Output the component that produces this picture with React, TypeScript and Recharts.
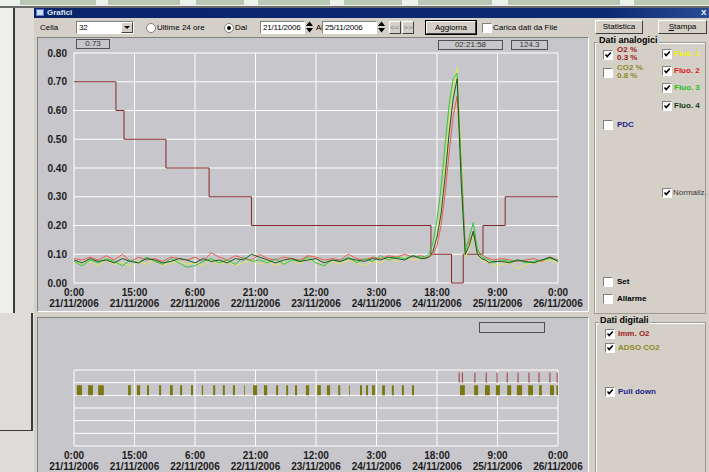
import React from "react"
import {
  LineChart,
  Line,
  ComposedChart,
  Area,
  XAxis,
  YAxis,
  CartesianGrid,
  ReferenceLine,
} from "recharts"

// ---- data (hours from 21/11/2006 0:00) ----
const HOURS = [
  0, 2, 4, 6, 8, 10, 12, 14, 16, 18, 20, 22, 24, 26, 28, 30, 32, 34, 36, 38, 40, 42,
  44, 46, 48, 50, 52, 54, 56, 58, 60, 62, 64, 66, 68, 70, 72, 74, 76, 78, 80, 82, 84, 86,
  87, 88, 89, 90, 91, 92, 93, 94, 95, 96, 97, 98, 99, 100, 101, 102, 103, 104,
  106, 108, 110, 112, 114, 116, 118, 120,
]

// Fluo. 1 (yellow)
const FLUO1 = [
  0.07, 0.065, 0.075, 0.06, 0.08, 0.065, 0.07, 0.06, 0.075, 0.065,
  0.08, 0.06, 0.07, 0.075, 0.065, 0.07, 0.06, 0.08, 0.065, 0.075,
  0.06, 0.07, 0.08, 0.065, 0.075, 0.06, 0.07, 0.08, 0.065, 0.085,
  0.07, 0.06, 0.075, 0.065, 0.08, 0.07, 0.06, 0.075, 0.07, 0.085,
  0.075, 0.09, 0.08, 0.085,
  0.085, 0.09, 0.11, 0.17, 0.26, 0.4, 0.56, 0.68, 0.75, 0.45, 0.09, 0.12, 0.17, 0.1, 0.08, 0.07, 0.075, 0.06,
  0.065, 0.07, 0.05, 0.065, 0.07, 0.075, 0.08, 0.07,
]

// Fluo. 2 (red)
const FLUO2 = [
  0.085, 0.08, 0.09, 0.08, 0.095, 0.08, 0.1, 0.075, 0.09, 0.08,
  0.085, 0.075, 0.09, 0.085, 0.08, 0.09, 0.075, 0.105, 0.09, 0.08,
  0.095, 0.085, 0.08, 0.1, 0.085, 0.08, 0.09, 0.085, 0.08, 0.095,
  0.09, 0.08, 0.085, 0.08, 0.1, 0.085, 0.08, 0.09, 0.085, 0.095,
  0.09, 0.1, 0.09, 0.095,
  0.09, 0.09, 0.1, 0.13, 0.2, 0.31, 0.45, 0.58, 0.65, 0.42, 0.13, 0.14, 0.18, 0.11, 0.1, 0.09, 0.085, 0.08,
  0.085, 0.08, 0.075, 0.08, 0.085, 0.075, 0.09, 0.08,
]

// Fluo. 3 (light green)
const FLUO3 = [
  0.075, 0.06, 0.08, 0.07, 0.085, 0.075, 0.06, 0.08, 0.07, 0.09,
  0.075, 0.065, 0.085, 0.07, 0.055, 0.06, 0.075, 0.085, 0.07, 0.08,
  0.065, 0.09, 0.075, 0.08, 0.07, 0.085, 0.065, 0.08, 0.075, 0.09,
  0.07, 0.06, 0.08, 0.075, 0.09, 0.07, 0.085, 0.075, 0.095, 0.08,
  0.09, 0.085, 0.095, 0.09,
  0.09, 0.1, 0.14, 0.22, 0.33, 0.48, 0.62, 0.71, 0.73, 0.4, 0.11, 0.16, 0.21, 0.12, 0.09, 0.085, 0.08, 0.07,
  0.08, 0.075, 0.08, 0.07, 0.075, 0.08, 0.085, 0.08,
]

// Fluo. 4 (dark green)
const FLUO4 = [
  0.08, 0.07, 0.085, 0.075, 0.08, 0.07, 0.085, 0.075, 0.07, 0.085,
  0.08, 0.07, 0.075, 0.085, 0.08, 0.07, 0.085, 0.075, 0.08, 0.07,
  0.085, 0.08, 0.1, 0.09, 0.08, 0.07, 0.08, 0.085, 0.075, 0.08,
  0.085, 0.07, 0.08, 0.075, 0.085, 0.08, 0.075, 0.085, 0.08, 0.09,
  0.085, 0.08, 0.095, 0.085,
  0.085, 0.09, 0.11, 0.16, 0.24, 0.37, 0.52, 0.64, 0.71, 0.35, 0.1, 0.13, 0.18, 0.1, 0.085, 0.08, 0.07, 0.075,
  0.075, 0.07, 0.08, 0.075, 0.07, 0.08, 0.09, 0.075,
]

// O2 % (step line)
const O2_HOURS = [0, 10.4, 12.4, 22.8, 33.5, 44, 88.5, 93.6, 96.5, 101.4, 106.9, 120]
const O2_VALUES = [0.7, 0.6, 0.5, 0.4, 0.3, 0.2, 0.1, 0, 0.1, 0.2, 0.3, 0.3]

// digital channels
const ADSO_ON = [
  0.7, 3.5, 6.0, 13.4, 15.6, 18.1, 21.1, 23.8, 26.3, 29.0, 31.7, 34.5, 36.9, 39.4, 42.2,
  44.4, 47.1, 50.1, 52.6, 54.8, 57.5, 60.3, 62.7, 65.5, 68.2, 70.9, 72.4, 73.9, 76.4,
  78.8, 81.3, 83.8, 95.7, 99.2, 101.9, 104.6, 107.4, 109.8, 112.6, 115.3, 118.0, 119.6,
]
const ADSO_OFF = [
  2.0, 4.7, 7.4, 14.1, 16.4, 18.6, 21.6, 24.5, 26.8, 29.5, 32.0, 35.0, 37.4, 39.9, 42.4,
  45.4, 47.9, 50.6, 53.1, 55.3, 58.3, 61.2, 63.5, 66.0, 68.4, 71.4, 72.9, 74.6, 77.1,
  79.3, 81.8, 84.3, 96.9, 100.2, 103.1, 105.6, 108.4, 111.1, 113.8, 116.0, 119.0, 120,
]
const IMM_O2 = [95.5, 96.3, 99.4, 102.2, 104.9, 107.4, 110.1, 112.8, 115.3, 118.0, 119.8]

const TICK_HOURS = [0, 15, 30, 45, 60, 75, 90, 105, 120]
const TICK_TIMES = ["0:00", "15:00", "6:00", "21:00", "12:00", "3:00", "18:00", "9:00", "0:00"]
const TICK_DATES = [
  "21/11/2006", "21/11/2006", "22/11/2006", "22/11/2006", "23/11/2006",
  "24/11/2006", "24/11/2006", "25/11/2006", "26/11/2006",
]
const LEFT_TICKS = [0, 0.1, 0.2, 0.3, 0.4, 0.5, 0.6, 0.7, 0.8]
const RIGHT_TICKS = [95, 99, 103, 107, 111, 115, 119, 123, 127]
const DIGITAL_ROWS = [1, 2, 3, 4, 5]

const WIN = "#d4d0c8"
const PLOT = "#c7c6cb"
const UI_FONT = '"Liberation Sans", Arial, sans-serif'
const AXIS_FONT = { fontFamily: UI_FONT, fontSize: 10, fontWeight: "bold", fill: "#1c1c1c" } as const

function DateTick({ x, y, payload }: any) {
  const i = TICK_HOURS.indexOf(payload.value)
  return (
    <text x={x} y={y} textAnchor="middle" {...AXIS_FONT}>
      <tspan x={x} dy={13}>{TICK_TIMES[i]}</tspan>
      <tspan x={x} dy={11}>{TICK_DATES[i]}</tspan>
    </text>
  )
}

function NoTick() {
  return <g />
}

function T({ x, y, color = "#000", bold = false, size = 9, children }: any) {
  return (
    <div
      style={{
        position: "absolute", left: x, top: y, color, fontWeight: bold ? "bold" : "normal",
        fontSize: size, lineHeight: 1, whiteSpace: "nowrap",
      }}
    >
      {children}
    </div>
  )
}

function Check({ x, y, on }: { x: number; y: number; on?: boolean }) {
  return (
    <div
      style={{
        position: "absolute", left: x, top: y, width: 8, height: 8, background: "#fff",
        borderTop: "1px solid #808080", borderLeft: "1px solid #808080",
        borderRight: "1px solid #fff", borderBottom: "1px solid #fff",
      }}
    >
      {on && (
        <svg width={8} height={8} style={{ display: "block" }}>
          <path d="M1.5 3.5 L3.2 5.5 L6.8 1.5" stroke="#000" strokeWidth={1.6} fill="none" />
        </svg>
      )}
    </div>
  )
}

function Radio({ x, y, on }: { x: number; y: number; on?: boolean }) {
  return (
    <div
      style={{
        position: "absolute", left: x, top: y, width: 8, height: 8, borderRadius: 5,
        background: "#fff", border: "1px solid #808080",
      }}
    >
      {on && (
        <div style={{ position: "absolute", left: 2, top: 2, width: 4, height: 4, borderRadius: 2, background: "#000" }} />
      )}
    </div>
  )
}

function Field({ x, y, w, h, children }: any) {
  return (
    <div
      style={{
        position: "absolute", left: x, top: y, width: w, height: h, background: "#fff",
        borderTop: "1px solid #808080", borderLeft: "1px solid #808080",
        borderRight: "1px solid #fff", borderBottom: "1px solid #fff",
        fontSize: 8, lineHeight: `${h - 2}px`, paddingLeft: 2, boxSizing: "border-box",
        whiteSpace: "nowrap", overflow: "hidden", letterSpacing: -0.2,
      }}
    >
      {children}
    </div>
  )
}

function Button({ x, y, w, h, children, focus }: any) {
  return (
    <div
      style={{
        position: "absolute", left: x, top: y, width: w, height: h, background: WIN,
        borderTop: "1px solid #fff", borderLeft: "1px solid #fff",
        borderRight: "1px solid #404040", borderBottom: "1px solid #404040",
        outline: focus ? "1px solid #000" : "none",
        boxSizing: "border-box", fontSize: 8, textAlign: "center", lineHeight: `${h - 2}px`,
      }}
    >
      {children}
    </div>
  )
}

function Spinner({ x, y }: { x: number; y: number }) {
  return (
    <svg width={7} height={12} style={{ position: "absolute", left: x, top: y }}>
      <path d="M0 5 L3.5 0.5 L7 5 Z M0 7 L3.5 11.5 L7 7 Z" fill="#000" />
    </svg>
  )
}

export default function App() {
  const fluoRows = HOURS.map((h, i) => ({ h, f1: FLUO1[i], f2: FLUO2[i], f3: FLUO3[i], f4: FLUO4[i] }))
  const o2Rows = O2_HOURS.map((h, i) => ({ h, o2: O2_VALUES[i] }))
  const adsoRows: { h: number; v: number }[] = [{ h: 0, v: 4 }]
  ADSO_ON.forEach((a, i) => {
    adsoRows.push({ h: a, v: 4.8 })
    adsoRows.push({ h: ADSO_OFF[i], v: 4 })
  })

  return (
    <div
      style={{
        position: "absolute", left: 0, top: 0, width: 709, height: 472, overflow: "hidden",
        background: WIN, fontFamily: UI_FONT, fontSize: 9, color: "#000",
      }}
    >
      {/* desktop behind the window */}
      <div style={{ position: "absolute", left: 0, top: 0, width: 709, height: 7, background: "#edf1ec" }} />
      {[[20, 96], [108, 180], [196, 244], [258, 330], [344, 402], [418, 492], [508, 620], [634, 709]].map(([a, b]) => (
        <div key={a} style={{ position: "absolute", left: a, top: 0, width: b - a, height: 5, background: "#b9c9b6" }} />
      ))}
      <div style={{ position: "absolute", left: 0, top: 6, width: 709, height: 2, background: "#6b6b6b" }} />
      <div style={{ position: "absolute", left: 0, top: 8, width: 34, height: 464, background: "#dedcd8" }} />
      <div style={{ position: "absolute", left: 0, top: 8, width: 13, height: 305, background: "#efefed" }} />
      <div style={{ position: "absolute", left: 13, top: 8, width: 2, height: 305, background: "#3a3a3a" }} />
      <div style={{ position: "absolute", left: 31, top: 313, width: 2, height: 118, background: "#3a3a3a" }} />
      <div style={{ position: "absolute", left: 0, top: 430, width: 33, height: 1, background: "#3a3a3a" }} />

      {/* title bar */}
      <div
        style={{
          position: "absolute", left: 34, top: 8, width: 675, height: 10,
          background: "linear-gradient(90deg, #0a246a 0%, #0c2a74 85%, #2a4c94 100%)",
        }}
      />
      <div style={{ position: "absolute", left: 36, top: 9, width: 8, height: 7, background: "#c8d8f8", border: "1px solid #6080c0", boxSizing: "border-box" }} />
      <T x={47} y={9} color="#dfe6f5" bold size={8}>Grafici</T>
      <T x={701} y={9} color="#fff" bold size={8}>X</T>

      {/* toolbar */}
      <T x={40} y={24} size={8}>Cella</T>
      <Field x={76} y={21} w={58} h={13}>32</Field>
      <div style={{ position: "absolute", left: 121, top: 22, width: 12, height: 11, background: WIN, borderTop: "1px solid #fff", borderLeft: "1px solid #fff", borderRight: "1px solid #404040", borderBottom: "1px solid #404040", boxSizing: "border-box" }}>
        <svg width={10} height={9}><path d="M2 3 L8 3 L5 6 Z" fill="#000" /></svg>
      </div>
      <Radio x={146} y={23} />
      <T x={157} y={24} size={8}>Ultime 24 ore</T>
      <Radio x={224} y={23} on />
      <T x={235} y={24} size={8}>Dal</T>
      <Field x={260} y={21} w={45} h={13}>21/11/2006</Field>
      <Spinner x={306} y={21} />
      <T x={316} y={24} size={8}>Al</T>
      <Field x={322} y={21} w={55} h={13}>25/11/2006</Field>
      <Spinner x={378} y={21} />
      <Button x={389} y={21} w={12} h={13}><span style={{ color: "#808080" }}>&lt;&lt;</span></Button>
      <Button x={402} y={21} w={12} h={13}><span style={{ color: "#808080" }}>&gt;&gt;</span></Button>
      <Button x={426} y={21} w={50} h={13} focus>Aggiorna</Button>
      <Check x={482} y={23} />
      <T x={493} y={24} size={8}>Carica dati da File</T>
      <Button x={595} y={20} w={48} h={14}>Statistica</Button>
      <Button x={658} y={20} w={49} h={14}><u>S</u>tampa</Button>

      {/* chart panels */}
      <div style={{ position: "absolute", left: 37, top: 37, width: 552, height: 275, background: PLOT, borderTop: "1px solid #808080", borderLeft: "1px solid #808080", borderRight: "1px solid #fff", borderBottom: "1px solid #fff", boxSizing: "border-box" }} />
      <div style={{ position: "absolute", left: 37, top: 317, width: 552, height: 160, background: PLOT, borderTop: "1px solid #808080", borderLeft: "1px solid #808080", borderRight: "1px solid #fff", boxSizing: "border-box" }} />

      <div style={{ position: "absolute", left: 0, top: 37 }}>
        <LineChart width={600} height={275} margin={{ top: 16, right: 8, bottom: 0, left: 30 }}>
          <CartesianGrid stroke="#ffffff" strokeWidth={1} />
          <XAxis
            type="number" dataKey="h" domain={[0, 120]} ticks={TICK_HOURS} interval={0}
            height={29} tickSize={0} tickMargin={0} axisLine={false} tickLine={false}
            tick={<DateTick />} allowDataOverflow
          />
          <YAxis
            type="number" domain={[0, 0.8]} ticks={LEFT_TICKS} interval={0} width={44}
            tickSize={0} tickMargin={7} axisLine={false} tickLine={false}
            tickFormatter={(v: number) => v.toFixed(2)} tick={AXIS_FONT}
          />
          <YAxis
            yAxisId="r" orientation="right" type="number" domain={[95, 127]} ticks={RIGHT_TICKS}
            interval={0} width={34} tickSize={0} tickMargin={2} axisLine={false} tickLine={false}
            tickFormatter={(v: number) => v.toFixed(1)} tick={AXIS_FONT}
          />
          <Line data={o2Rows} dataKey="o2" type="stepAfter" stroke="#842828" strokeWidth={1} dot={false} activeDot={false} isAnimationActive={false} />
          <Line data={fluoRows} dataKey="f1" type="linear" stroke="#e6e65a" strokeWidth={1} dot={false} activeDot={false} isAnimationActive={false} />
          <Line data={fluoRows} dataKey="f2" type="linear" stroke="#ee5a4e" strokeWidth={1} dot={false} activeDot={false} isAnimationActive={false} />
          <Line data={fluoRows} dataKey="f3" type="linear" stroke="#2fcb3a" strokeWidth={1} dot={false} activeDot={false} isAnimationActive={false} />
          <Line data={fluoRows} dataKey="f4" type="linear" stroke="#1d5a22" strokeWidth={1} dot={false} activeDot={false} isAnimationActive={false} />
        </LineChart>
      </div>

      <div style={{ position: "absolute", left: 0, top: 318 }}>
        <ComposedChart width={600} height={154} margin={{ top: 52, right: 42, bottom: 0, left: 30 }}>
          <CartesianGrid stroke="#ffffff" strokeWidth={1} />
          <XAxis
            type="number" dataKey="h" domain={[0, 120]} ticks={TICK_HOURS} interval={0}
            height={26} tickSize={0} tickMargin={0} axisLine={false} tickLine={false}
            tick={<DateTick />} allowDataOverflow
          />
          <YAxis
            type="number" domain={[0, 6]} ticks={DIGITAL_ROWS} interval={0} width={44}
            axisLine={false} tickLine={false} tick={<NoTick />}
          />
          <Area
            data={adsoRows} dataKey="v" type="stepAfter" baseValue={4} stroke="none"
            fill="#7b7812" fillOpacity={1} dot={false} activeDot={false} isAnimationActive={false}
          />
          {IMM_O2.map((h) => (
            <ReferenceLine key={h} segment={[{ x: h, y: 5 }, { x: h, y: 5.8 }]} stroke="#9b3a3a" strokeWidth={1} />
          ))}
        </ComposedChart>
      </div>

      {/* readout boxes */}
      <div style={{ position: "absolute", left: 76, top: 39, width: 34, height: 10, border: "1px solid #505050", boxSizing: "border-box", fontSize: 8, textAlign: "center", lineHeight: "8px", color: "#333" }}>0.73</div>
      <div style={{ position: "absolute", left: 438, top: 40, width: 65, height: 10, border: "1px solid #505050", boxSizing: "border-box", fontSize: 8, textAlign: "center", lineHeight: "8px", color: "#333" }}>02:21:58</div>
      <div style={{ position: "absolute", left: 511, top: 40, width: 37, height: 10, border: "1px solid #505050", boxSizing: "border-box", fontSize: 8, textAlign: "center", lineHeight: "8px", color: "#333" }}>124.3</div>
      <div style={{ position: "absolute", left: 479, top: 322, width: 66, height: 11, border: "1px solid #505050", boxSizing: "border-box" }} />

      {/* Dati analogici */}
      <div style={{ position: "absolute", left: 594, top: 42, width: 112, height: 272, border: "1px solid #9c9a94", boxShadow: "inset 1px 1px 0 #fff", boxSizing: "border-box" }} />
      <T x={598} y={36} bold size={9}><span style={{ background: WIN, padding: "0 1px" }}>Dati analogici</span></T>
      <Check x={603} y={50} on />
      <T x={617} y={46} color="#a01c1c" bold size={8}>O2 %</T>
      <T x={617} y={54} color="#a01c1c" bold size={8}>0.3 %</T>
      <Check x={603} y={68} />
      <T x={617} y={64} color="#8c8a22" bold size={8}>CO2 %</T>
      <T x={617} y={72} color="#8c8a22" bold size={8}>0.8 %</T>
      <Check x={662} y={49} on />
      <T x={674} y={50} color="#f2f200" bold size={8}>Fluo. 1</T>
      <Check x={662} y={66} on />
      <T x={674} y={67} color="#e01818" bold size={8}>Fluo. 2</T>
      <Check x={662} y={83} on />
      <T x={674} y={84} color="#22c022" bold size={8}>Fluo. 3</T>
      <Check x={662} y={101} on />
      <T x={674} y={102} color="#0e3e12" bold size={8}>Fluo. 4</T>
      <Check x={603} y={120} />
      <T x={617} y={121} color="#1c1c8a" bold size={8}>PDC</T>
      <Check x={662} y={188} on />
      <T x={673} y={189} color="#3a3a3a" size={8}>Normaliz.</T>
      <Check x={603} y={277} />
      <T x={617} y={278} bold size={8}>Set</T>
      <Check x={603} y={294} />
      <T x={617} y={295} bold size={8}>Allarme</T>

      {/* Dati digitali */}
      <div style={{ position: "absolute", left: 595, top: 322, width: 111, height: 160, border: "1px solid #9c9a94", boxShadow: "inset 1px 1px 0 #fff", boxSizing: "border-box" }} />
      <T x={599} y={316} bold size={9}><span style={{ background: WIN, padding: "0 1px" }}>Dati digitali</span></T>
      <Check x={605} y={329} on />
      <T x={618} y={330} color="#a01c1c" bold size={8}>Imm.  O2</T>
      <Check x={605} y={343} on />
      <T x={618} y={344} color="#8c8a22" bold size={8}>ADSO CO2</T>
      <Check x={605} y={387} on />
      <T x={618} y={388} color="#1c1c8a" bold size={8}>Pull down</T>
    </div>
  )
}
